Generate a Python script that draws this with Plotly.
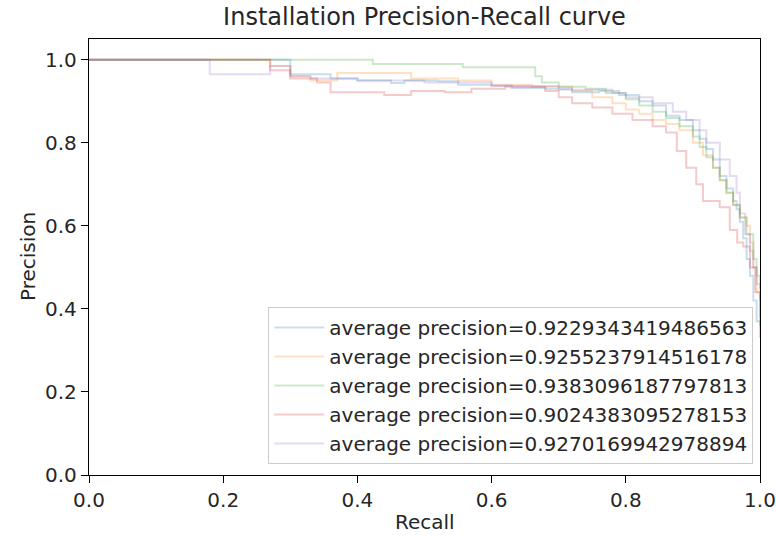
import plotly.graph_objects as go

# ---- data ----
labels = [
    "average precision=0.9229343419486563",
    "average precision=0.9255237914516178",
    "average precision=0.9383096187797813",
    "average precision=0.9024383095278153",
    "average precision=0.9270169942978894",
]
colors = ["#1f77b4", "#ff7f0e", "#2ca02c", "#d62728", "#9467bd"]

recall_1 = [0, 0.30, 0.36, 0.40, 0.45, 0.47, 0.52, 0.55, 0.60, 0.63, 0.68, 0.72, 0.76, 0.79, 0.82, 0.84,
            0.86, 0.88, 0.90, 0.91, 0.92, 0.93, 0.94, 0.95, 0.96, 0.965, 0.97, 0.975, 0.98, 0.985, 0.99, 0.995, 1.0]
precision_1 = [1.0, 0.965, 0.955, 0.95, 0.944, 0.95, 0.948, 0.94, 0.938, 0.932, 0.93, 0.922, 0.925, 0.915, 0.90, 0.89,
               0.865, 0.855, 0.83, 0.81, 0.785, 0.76, 0.72, 0.69, 0.66, 0.64, 0.61, 0.57, 0.52, 0.48, 0.42, 0.37, 0.33]

recall_2 = [0, 0.27, 0.30, 0.33, 0.37, 0.48, 0.55, 0.60, 0.66, 0.72, 0.75, 0.78, 0.80, 0.82, 0.84, 0.86, 0.88,
            0.90, 0.915, 0.93, 0.94, 0.95, 0.96, 0.97, 0.98, 0.985, 0.99, 0.995, 1.0]
precision_2 = [1.0, 0.985, 0.96, 0.95, 0.968, 0.955, 0.95, 0.94, 0.935, 0.925, 0.91, 0.895, 0.88, 0.87, 0.855, 0.845, 0.83,
               0.80, 0.77, 0.74, 0.71, 0.68, 0.65, 0.62, 0.60, 0.56, 0.50, 0.44, 0.38]

recall_3 = [0, 0.423, 0.557, 0.665, 0.675, 0.70, 0.74, 0.77, 0.80, 0.82, 0.84, 0.86, 0.88, 0.90, 0.91, 0.92,
            0.93, 0.94, 0.95, 0.96, 0.97, 0.98, 0.99, 0.995, 1.0]
precision_3 = [1.0, 0.99, 0.982, 0.96, 0.945, 0.935, 0.93, 0.92, 0.905, 0.89, 0.875, 0.86, 0.84, 0.815, 0.79, 0.765,
               0.74, 0.71, 0.68, 0.65, 0.62, 0.58, 0.52, 0.48, 0.45]

recall_4 = [0, 0.27, 0.30, 0.34, 0.36, 0.44, 0.48, 0.53, 0.57, 0.62, 0.68, 0.70, 0.72, 0.75, 0.78, 0.81, 0.84,
            0.86, 0.876, 0.89, 0.905, 0.915, 0.94, 0.955, 0.966, 0.975, 0.985, 0.993, 1.0]
precision_4 = [1.0, 0.975, 0.955, 0.945, 0.922, 0.915, 0.925, 0.922, 0.93, 0.935, 0.925, 0.91, 0.895, 0.885, 0.87, 0.855, 0.84,
               0.825, 0.78, 0.74, 0.70, 0.66, 0.645, 0.59, 0.56, 0.55, 0.50, 0.44, 0.36]

recall_5 = [0, 0.18, 0.27, 0.30, 0.33, 0.40, 0.50, 0.60, 0.70, 0.78, 0.80, 0.84, 0.87, 0.89, 0.91, 0.92, 0.94,
            0.955, 0.965, 0.97, 0.978, 0.985, 0.99, 0.995, 1.0]
precision_5 = [1.0, 0.965, 0.985, 0.96, 0.955, 0.95, 0.945, 0.937, 0.928, 0.92, 0.91, 0.895, 0.875, 0.855, 0.83, 0.80, 0.76,
               0.72, 0.68, 0.63, 0.58, 0.54, 0.50, 0.46, 0.42]

recalls = [recall_1, recall_2, recall_3, recall_4, recall_5]
precisions = [precision_1, precision_2, precision_3, precision_4, precision_5]

x_ticks = [0.0, 0.2, 0.4, 0.6, 0.8, 1.0]
y_ticks = [0.0, 0.2, 0.4, 0.6, 0.8, 1.0]

FONT = "DejaVu Sans"
TXT = "#262626"

fig = go.Figure()
for r, p, c, lab in zip(recalls, precisions, colors, labels):
    fig.add_trace(go.Scatter(
        x=r, y=p, mode="lines", name=lab,
        line=dict(color=c, width=2.0, shape="hv"),
        opacity=0.24,
    ))

axis_common = dict(
    showgrid=False, zeroline=False, showline=True, linecolor="black", linewidth=1.3,
    mirror=True, ticks="outside", ticklen=7, tickwidth=1.3, tickcolor="black",
    tickfont=dict(family=FONT, size=20, color=TXT), automargin=False,
)
fig.update_xaxes(range=[0, 1], tickvals=x_ticks, ticktext=[f"{v:.1f}" for v in x_ticks], **axis_common)
fig.update_yaxes(range=[0, 1.05], tickvals=y_ticks, ticktext=[f"{v:.1f}" for v in y_ticks], **axis_common)

fig.update_layout(
    width=776, height=536,
    margin=dict(l=89, r=16, t=39, b=61, autoexpand=False),
    plot_bgcolor="white", paper_bgcolor="white",
    font=dict(family=FONT, color=TXT),
    title=dict(text="Installation Precision-Recall curve", x=0.5, xref="paper", xanchor="center",
               y=1 - 17 / 536, yanchor="middle", yref="container",
               font=dict(family=FONT, size=24, color=TXT)),
    showlegend=True,
    legend=dict(x=0.99, y=0.025, xanchor="right", yanchor="bottom",
                bgcolor="rgba(255,255,255,0.8)", bordercolor="#cccccc", borderwidth=1,
                font=dict(family=FONT, size=20, color=TXT), itemwidth=50,
                traceorder="normal"),
    annotations=[
        dict(text="Recall", x=0.5, xref="paper", y=-47 / 436, yref="paper",
             yanchor="middle", showarrow=False, font=dict(family=FONT, size=20, color=TXT)),
        dict(text="Precision", x=-61 / 671, xref="paper", y=0.5 * 1.0, yref="paper",
             textangle=-90, xanchor="center", showarrow=False, font=dict(family=FONT, size=20, color=TXT)),
    ],
)

fig.write_html("out.html", config={"displayModeBar": False},
               post_script="document.body.style.margin='0';")
